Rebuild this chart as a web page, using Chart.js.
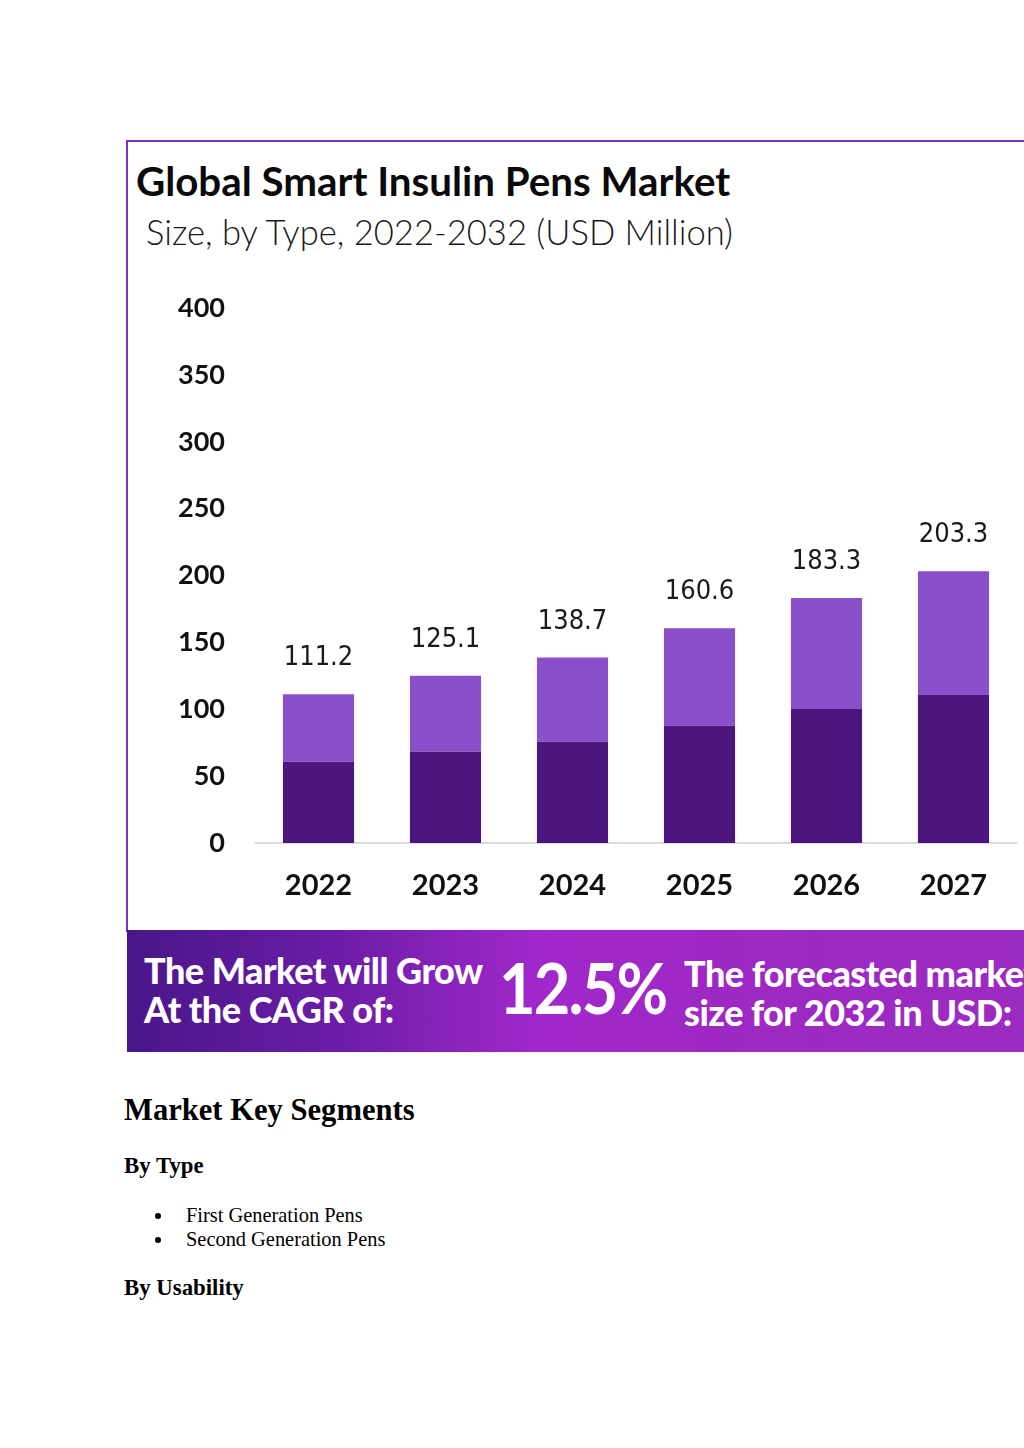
<!DOCTYPE html>
<html>
<head>
<meta charset="utf-8">
<script src="https://cdn.jsdelivr.net/npm/chart.js@4.4.1/dist/chart.umd.min.js"></script>
<style>
  html, body { margin: 0; padding: 0; background: #fff; }
  body { width: 1024px; height: 1448px; position: relative; overflow: hidden; }
  .frame { position: absolute; left: 126px; top: 140px; width: 920px; height: 792px;
           border-left: 2px solid #7d2fc0; border-top: 2px solid #7d2fc0; box-sizing: border-box; }
  .title { position: absolute; left: 136px; top: 157px; font-family: Lato, sans-serif; font-weight: 700;
           font-size: 40.3px; line-height: 48px; color: #0a0a0a; white-space: nowrap; }
  .subtitle { position: absolute; left: 146px; top: 210px; font-family: Lato, sans-serif; font-weight: 300;
              font-size: 34.6px; line-height: 44px; color: #1a1a1a; white-space: nowrap; }
  #wrap { position: absolute; left: 126px; top: 270px; width: 898px; height: 650px; }
  .banner { position: absolute; left: 127px; top: 930px; width: 920px; height: 122px;
            background: linear-gradient(90deg, #48168a 0%, #6a1ca6 22%, #a128cb 45%, #9e28c4 65%, #9b2cc0 100%); }
  .btxt { position: absolute; color: #fff; font-family: Lato, sans-serif; font-weight: 900; white-space: nowrap; }
  .h2 { position: absolute; left: 124px; top: 1092px; font-family: "Liberation Serif", "Times New Roman", serif;
        font-weight: 700; font-size: 30.6px; line-height: 36px; color: #000; white-space: nowrap; }
  .h3 { position: absolute; left: 124px; font-family: "Liberation Serif", "Times New Roman", serif;
        font-weight: 700; font-size: 22.8px; line-height: 26px; color: #000; white-space: nowrap; }
  .li { position: absolute; left: 186px; font-family: "Liberation Serif", "Times New Roman", serif;
        font-size: 20.4px; line-height: 24px; color: #000; white-space: nowrap; }
  .dot { position: absolute; left: 155px; width: 6px; height: 6px; border-radius: 50%; background: #000; }
</style>
</head>
<body>
<div class="frame"></div>
<div class="title">Global Smart Insulin Pens Market</div>
<div class="subtitle">Size, by Type, 2022-2032 (USD Million)</div>
<div id="wrap"><canvas id="c" width="898" height="650"></canvas></div>
<div class="banner"></div>
<div class="btxt" style="left:144px;top:949px;font-size:36px;line-height:42px;letter-spacing:-0.5px;">The Market will Grow</div>
<div class="btxt" style="left:144px;top:988px;font-size:36px;line-height:42px;letter-spacing:-0.5px;">At the CAGR of:</div>
<div class="btxt" style="left:499px;top:947px;font-size:70px;line-height:80px;font-weight:700;letter-spacing:-2px;transform:scaleX(0.9);transform-origin:0 0;">12.5%</div>
<div class="btxt" style="left:684px;top:952px;font-size:36px;line-height:42px;letter-spacing:-0.5px;">The forecasted market</div>
<div class="btxt" style="left:684px;top:991px;font-size:36px;line-height:42px;letter-spacing:-0.5px;">size for 2032 in USD:</div>

<div class="h2">Market Key Segments</div>
<div class="h3" style="top:1153px;">By Type</div>
<div class="dot" style="top:1213px;"></div>
<div class="li" style="top:1203px;">First Generation Pens</div>
<div class="dot" style="top:1237px;"></div>
<div class="li" style="top:1227px;">Second Generation Pens</div>
<div class="h3" style="top:1275px;">By Usability</div>

<script>
const years = ["2022", "2023", "2024", "2025", "2026", "2027"];
const firstGeneration = [60.7, 68.3, 75.7, 87.7, 100.2, 111.0];
const secondGeneration = [50.5, 56.8, 63.0, 72.9, 83.1, 92.3];
const totals = [111.2, 125.1, 138.7, 160.6, 183.3, 203.3];
const yTicks = [0, 50, 100, 150, 200, 250, 300, 350, 400];

const totalLabels = {
  id: 'totalLabels',
  afterDatasetsDraw(chart) {
    const ctx = chart.ctx;
    const meta = chart.getDatasetMeta(chart.data.datasets.length - 1);
    ctx.save();
    ctx.font = '400 27px "Liberation Sans Narrow", "DejaVu Sans Condensed", sans-serif';
    ctx.fillStyle = '#1a1a1a';
    ctx.textAlign = 'center';
    ctx.textBaseline = 'middle';
    meta.data.forEach((bar, i) => {
      ctx.fillText(totals[i].toFixed(1), bar.x, bar.y - 36);
    });
    ctx.restore();
  }
};

new Chart(document.getElementById('c'), {
  type: 'bar',
  data: {
    labels: years,
    datasets: [
      { label: 'First Generation Pens', data: firstGeneration, backgroundColor: '#4f157f',
        categoryPercentage: 1, barPercentage: 0.56 },
      { label: 'Second Generation Pens', data: secondGeneration, backgroundColor: '#8c4fcc',
        categoryPercentage: 1, barPercentage: 0.56 }
    ]
  },
  options: {
    responsive: false,
    animation: false,
    layout: { padding: { top: 38, right: 7, bottom: 0, left: 0 } },
    plugins: { legend: { display: false }, tooltip: { enabled: false } },
    scales: {
      x: {
        stacked: true,
        grid: { display: false },
        border: { display: true, color: '#dcdcdc', width: 2 },
        ticks: { color: '#111', padding: 17, font: { family: 'Lato', weight: '700', size: 29 } },
        afterFit(s) { s.height = 77; }
      },
      y: {
        stacked: true,
        min: 0, max: 400,
        afterBuildTicks(s) { s.ticks = yTicks.map(v => ({ value: v })); },
        grid: { display: false },
        border: { display: false },
        ticks: { color: '#111', padding: 22, font: { family: 'Lato', weight: '700', size: 27 } },
        afterFit(s) { s.width = 129; }
      }
    }
  },
  plugins: [totalLabels]
});
</script>
</body>
</html>
